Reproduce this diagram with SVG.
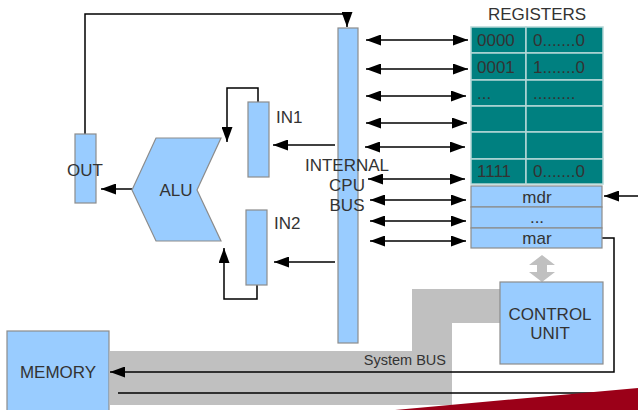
<svg xmlns="http://www.w3.org/2000/svg" width="638" height="410" viewBox="0 0 638 410">
<defs>
<style>
.box{fill:#99ccff;stroke:#8c8c8c;stroke-width:1.2}
.t{font-family:"Liberation Sans",Arial,sans-serif;fill:#333333;font-size:17px}
.small{font-size:14.5px}
.tc{text-anchor:middle}
.ln{fill:none;stroke:#000;stroke-width:1.5}
.teal{fill:#008080;stroke:#b4d6d6;stroke-width:1.5}
</style>
<marker id="ah" markerUnits="userSpaceOnUse" markerWidth="15" markerHeight="11" refX="15" refY="5.5" orient="auto-start-reverse">
<path d="M0,0 L15,5.5 L0,11 z" fill="#000"/>
</marker>
</defs>
<rect width="638" height="410" fill="#fff"/>

<g id="system-bus">
<path d="M110,351 L412,351 L412,289 L500,289 L500,323 L452,323 L452,405 L110,405 Z" fill="#c0c0c0"/>
<text class="t small" x="446" y="365" text-anchor="end">System BUS</text>
</g>

<g id="connectors">
<polyline class="ln" points="85,134 85,14 347,14 347,27" marker-end="url(#ah)"/>
<line class="ln" x1="132" y1="189" x2="101" y2="189" marker-end="url(#ah)"/>
<polyline class="ln" points="258,102 258,88 227,88 227,142" marker-end="url(#ah)"/>
<polyline class="ln" points="257,285 257,299 224,299 224,248" marker-end="url(#ah)"/>
<line class="ln" x1="335" y1="145" x2="273" y2="145" marker-end="url(#ah)"/>
<line class="ln" x1="335" y1="262" x2="274" y2="262" marker-end="url(#ah)"/>
<line class="ln" x1="366" y1="40" x2="468" y2="40" marker-start="url(#ah)" marker-end="url(#ah)"/>
<line class="ln" x1="366" y1="69" x2="468" y2="69" marker-start="url(#ah)" marker-end="url(#ah)"/>
<line class="ln" x1="366" y1="96" x2="466" y2="96" marker-start="url(#ah)" marker-end="url(#ah)"/>
<line class="ln" x1="366" y1="123" x2="467" y2="123" marker-start="url(#ah)" marker-end="url(#ah)"/>
<line class="ln" x1="365" y1="147" x2="465" y2="147" marker-start="url(#ah)" marker-end="url(#ah)"/>
<line class="ln" x1="368" y1="179" x2="465" y2="179" marker-start="url(#ah)" marker-end="url(#ah)"/>
<line class="ln" x1="370" y1="200" x2="466" y2="200" marker-start="url(#ah)" marker-end="url(#ah)"/>
<line class="ln" x1="370" y1="221" x2="466" y2="221" marker-start="url(#ah)" marker-end="url(#ah)"/>
<line class="ln" x1="370" y1="241" x2="466" y2="241" marker-start="url(#ah)" marker-end="url(#ah)"/>
<line class="ln" x1="638" y1="196" x2="604" y2="196" marker-end="url(#ah)"/>
<polyline class="ln" points="602,238 614,238 614,372 110,372" marker-end="url(#ah)"/>
<line class="ln" x1="118" y1="393" x2="638" y2="393"/>
<path d="M542,255 L555,265 L547,265 L547,272 L555,272 L542,282 L529,272 L537,272 L537,265 L529,265 Z" fill="#c0c0c0"/>
</g>

<g id="out">
<rect class="box" x="75" y="134" width="21" height="69"/>
<text class="t tc" x="85" y="176">OUT</text>
</g>

<g id="alu">
<path class="box" d="M156,138 L221,138 L197,190 L221,241 L156,241 L132,190 Z"/>
<text class="t tc" x="176" y="196">ALU</text>
</g>

<g id="in1">
<rect class="box" x="248" y="102" width="21" height="75"/>
<text class="t" x="276" y="123">IN1</text>
</g>

<g id="in2">
<rect class="box" x="246" y="210" width="21" height="75"/>
<text class="t" x="274" y="229">IN2</text>
</g>

<g id="internal-bus">
<rect class="box" x="338" y="28" width="20" height="315"/>
<text class="t tc" x="347" y="171">INTERNAL</text>
<text class="t tc" x="347" y="191">CPU</text>
<text class="t tc" x="347" y="211">BUS</text>
</g>

<g id="registers">
<text class="t tc" x="537" y="20">REGISTERS</text>
<rect class="teal" x="471" y="27" width="55" height="26"/>
<rect class="teal" x="526" y="27" width="77" height="26"/>
<rect class="teal" x="471" y="53" width="55" height="27"/>
<rect class="teal" x="526" y="53" width="77" height="27"/>
<rect class="teal" x="471" y="80" width="55" height="26"/>
<rect class="teal" x="526" y="80" width="77" height="26"/>
<rect class="teal" x="471" y="106" width="55" height="26"/>
<rect class="teal" x="526" y="106" width="77" height="26"/>
<rect class="teal" x="471" y="132" width="55" height="27"/>
<rect class="teal" x="526" y="132" width="77" height="27"/>
<rect class="teal" x="471" y="159" width="55" height="25"/>
<rect class="teal" x="526" y="159" width="77" height="25"/>
<text class="t" x="477" y="46">0000</text>
<text class="t" x="533" y="46">0.......0</text>
<text class="t" x="477" y="73">0001</text>
<text class="t" x="533" y="73">1.......0</text>
<text class="t" x="477" y="99">...</text>
<text class="t" x="533" y="99">.........</text>
<text class="t" x="477" y="177">1111</text>
<text class="t" x="533" y="177">0.......0</text>
</g>

<g id="mdr">
<rect class="box" x="471" y="186" width="131" height="21"/>
<text class="t tc" x="537" y="203">mdr</text>
</g>
<g id="dots">
<rect class="box" x="471" y="207" width="131" height="21"/>
<text class="t tc" x="537" y="223">...</text>
</g>
<g id="mar">
<rect class="box" x="471" y="228" width="131" height="20"/>
<text class="t tc" x="537" y="244">mar</text>
</g>

<g id="control-unit">
<rect class="box" x="500" y="282" width="103" height="82"/>
<text class="t tc" x="550" y="320">CONTROL</text>
<text class="t tc" x="550" y="339">UNIT</text>
</g>

<g id="memory">
<rect class="box" x="7" y="331" width="102" height="82"/>
<text class="t tc" x="58" y="378">MEMORY</text>
</g>

<g id="decor">
<path d="M395,410 L638,388 L638,410 Z" fill="#9b0018"/>
</g>
</svg>
